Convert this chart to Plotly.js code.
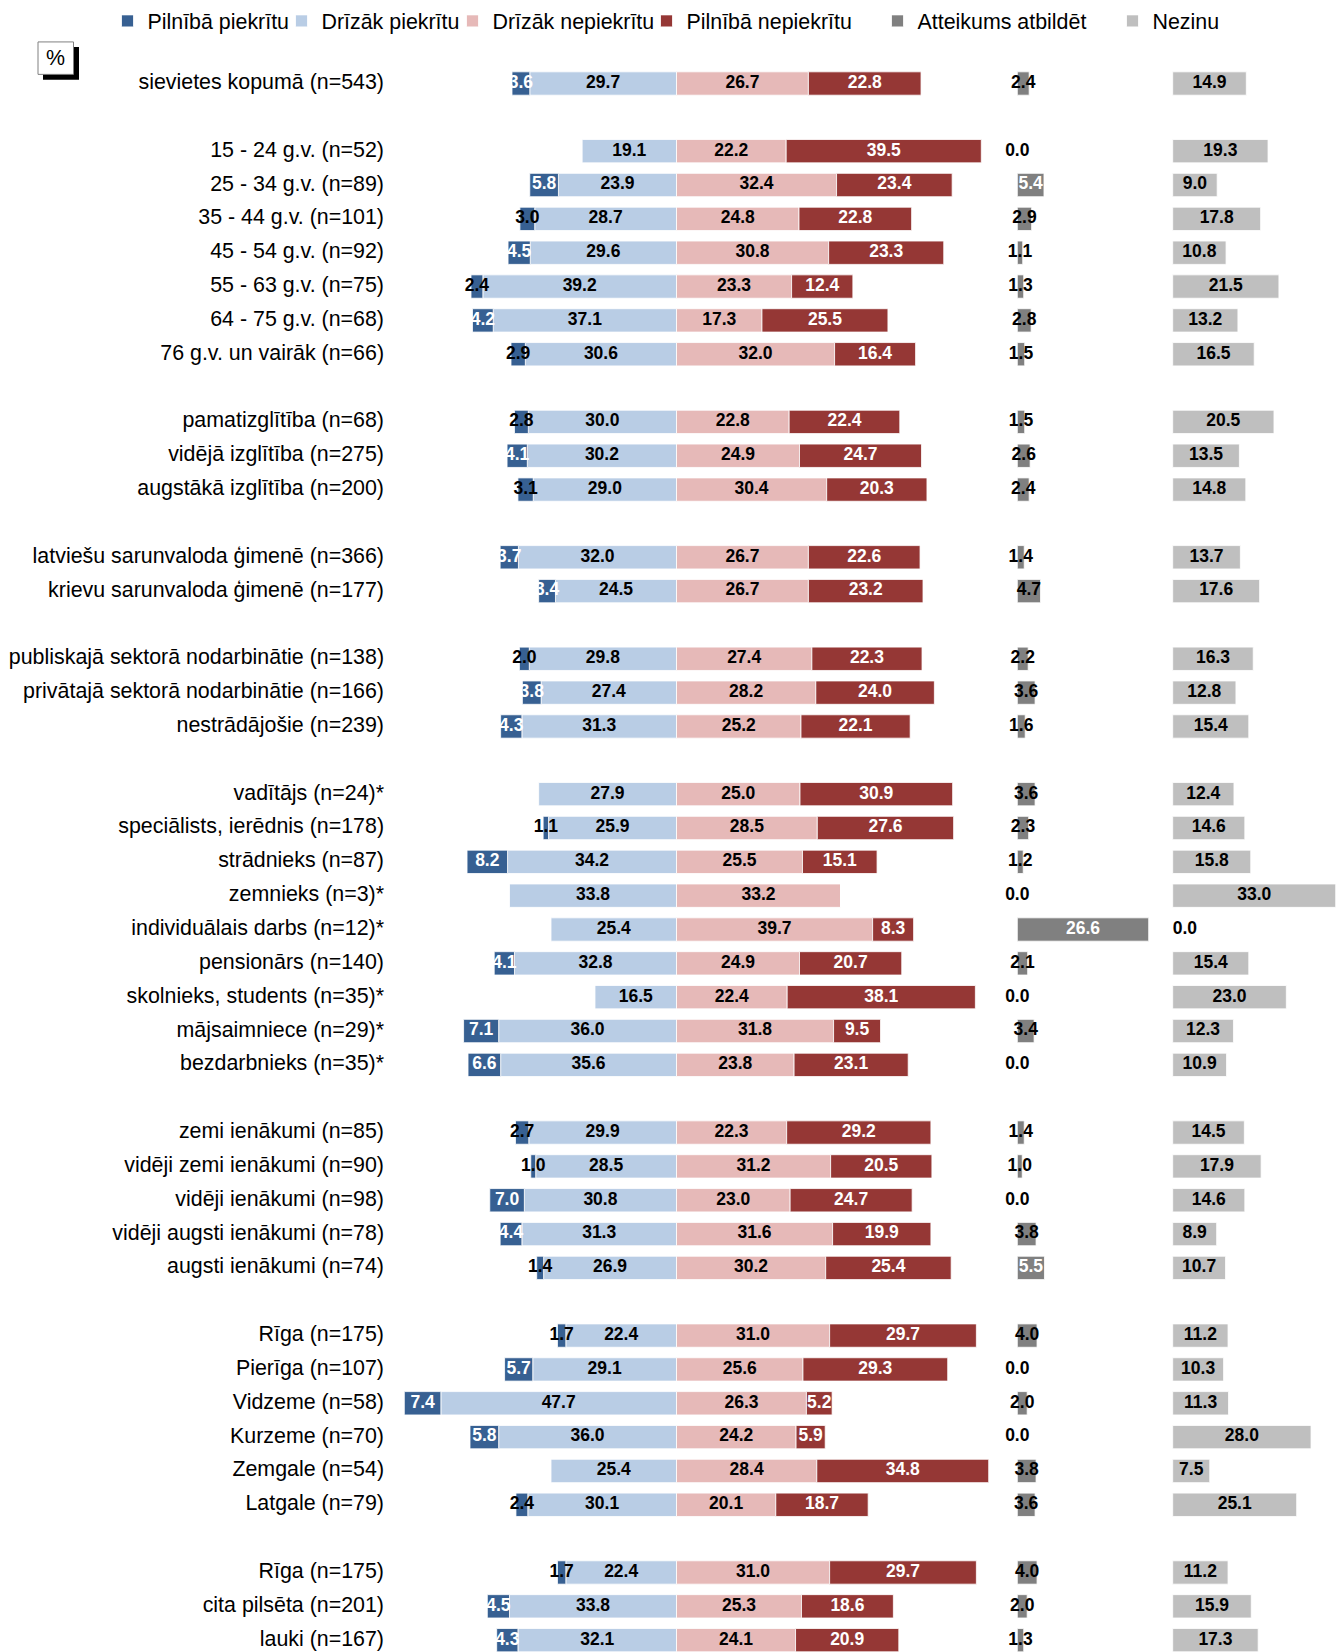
<!DOCTYPE html>
<html><head><meta charset="utf-8">
<script src="https://cdn.plot.ly/plotly-3.0.1.min.js"></script>
<style>html,body{margin:0;padding:0;background:#fff}#chart{width:1343px;height:1652px}</style>
</head><body><div id="chart"></div>
<script>
const categories = [
  'sievietes kopumā (n=543)',
  '15 - 24 g.v. (n=52)', '25 - 34 g.v. (n=89)', '35 - 44 g.v. (n=101)', '45 - 54 g.v. (n=92)',
  '55 - 63 g.v. (n=75)', '64 - 75 g.v. (n=68)', '76 g.v. un vairāk (n=66)',
  'pamatizglītība (n=68)', 'vidējā izglītība (n=275)', 'augstākā izglītība (n=200)',
  'latviešu sarunvaloda ģimenē (n=366)', 'krievu sarunvaloda ģimenē (n=177)',
  'publiskajā sektorā nodarbinātie (n=138)', 'privātajā sektorā nodarbinātie (n=166)', 'nestrādājošie (n=239)',
  'vadītājs (n=24)*', 'speciālists, ierēdnis (n=178)', 'strādnieks (n=87)', 'zemnieks (n=3)*',
  'individuālais darbs (n=12)*', 'pensionārs (n=140)', 'skolnieks, students (n=35)*',
  'mājsaimniece (n=29)*', 'bezdarbnieks (n=35)*',
  'zemi ienākumi (n=85)', 'vidēji zemi ienākumi (n=90)', 'vidēji ienākumi (n=98)',
  'vidēji augsti ienākumi (n=78)', 'augsti ienākumi (n=74)',
  'Rīga (n=175)', 'Pierīga (n=107)', 'Vidzeme (n=58)', 'Kurzeme (n=70)', 'Zemgale (n=54)', 'Latgale (n=79)',
  'Rīga (n=175)', 'cita pilsēta (n=201)', 'lauki (n=167)'
];
const groupSizes = [1, 7, 3, 2, 3, 9, 5, 6, 3];

const seriesNames = ['Pilnībā piekrītu', 'Drīzāk piekrītu', 'Drīzāk nepiekrītu', 'Pilnībā nepiekrītu', 'Atteikums atbildēt', 'Nezinu'];

const fullyAgree = [3.6, 0, 5.8, 3.0, 4.5, 2.4, 4.2, 2.9, 2.8, 4.1, 3.1, 3.7, 3.4, 2.0, 3.8, 4.3,
  0, 1.1, 8.2, 0, 0, 4.1, 0, 7.1, 6.6, 2.7, 1.0, 7.0, 4.4, 1.4, 1.7, 5.7, 7.4, 5.8, 0, 2.4, 1.7, 4.5, 4.3];
const ratherAgree = [29.7, 19.1, 23.9, 28.7, 29.6, 39.2, 37.1, 30.6, 30.0, 30.2, 29.0, 32.0, 24.5, 29.8, 27.4, 31.3,
  27.9, 25.9, 34.2, 33.8, 25.4, 32.8, 16.5, 36.0, 35.6, 29.9, 28.5, 30.8, 31.3, 26.9, 22.4, 29.1, 47.7, 36.0, 25.4, 30.1, 22.4, 33.8, 32.1];
const ratherDisagree = [26.7, 22.2, 32.4, 24.8, 30.8, 23.3, 17.3, 32.0, 22.8, 24.9, 30.4, 26.7, 26.7, 27.4, 28.2, 25.2,
  25.0, 28.5, 25.5, 33.2, 39.7, 24.9, 22.4, 31.8, 23.8, 22.3, 31.2, 23.0, 31.6, 30.2, 31.0, 25.6, 26.3, 24.2, 28.4, 20.1, 31.0, 25.3, 24.1];
const fullyDisagree = [22.8, 39.5, 23.4, 22.8, 23.3, 12.4, 25.5, 16.4, 22.4, 24.7, 20.3, 22.6, 23.2, 22.3, 24.0, 22.1,
  30.9, 27.6, 15.1, 0, 8.3, 20.7, 38.1, 9.5, 23.1, 29.2, 20.5, 24.7, 19.9, 25.4, 29.7, 29.3, 5.2, 5.9, 34.8, 18.7, 29.7, 18.6, 20.9];
const refused = [2.4, 0.0, 5.4, 2.9, 1.1, 1.3, 2.8, 1.5, 1.5, 2.6, 2.4, 1.4, 4.7, 2.2, 3.6, 1.6,
  3.6, 2.3, 1.2, 0.0, 26.6, 2.1, 0.0, 3.4, 0.0, 1.4, 1.0, 0.0, 3.8, 5.5, 4.0, 0.0, 2.0, 0.0, 3.8, 3.6, 4.0, 2.0, 1.3];
const dontKnow = [14.9, 19.3, 9.0, 17.8, 10.8, 21.5, 13.2, 16.5, 20.5, 13.5, 14.8, 13.7, 17.6, 16.3, 12.8, 15.4,
  12.4, 14.6, 15.8, 33.0, 0.0, 15.4, 23.0, 12.3, 10.9, 14.5, 17.9, 14.6, 8.9, 10.7, 11.2, 10.3, 11.3, 28.0, 7.5, 25.1, 11.2, 15.9, 17.3];

// ---- layout helpers ----
const W = 1343, H = 1652;
const PX = 4.94;               // pixels per percentage point
const FONT = 'Liberation Sans, Arial, sans-serif';
const COL = ['#376092', '#B9CDE5', '#E6B9B8', '#953735', '#808080', '#BFBFBF'];

// one empty slot between groups
const pos = [];
let slot = 0;
groupSizes.forEach((n, g) => { if (g > 0) slot++; for (let i = 0; i < n; i++) pos.push(slot++); });

function xAxis(left, right, zero, extra) {
  return Object.assign({
    domain: [left / W, right / W],
    range: [(left - zero) / PX, (right - zero) / PX],
    visible: false, fixedrange: true
  }, extra || {});
}
const fmt = v => v.toFixed(1);

function bar(values, idx, xa, legendId, sign) {
  return {
    type: 'bar', orientation: 'h', y: pos, yaxis: 'y', hoverinfo: 'skip',
    name: seriesNames[idx], x: values.map(v => sign * v), xaxis: xa, legend: legendId,
    marker: { color: COL[idx], line: { color: 'rgba(255,255,255,0.8)', width: 1 } }
  };
}

function labels(xa, xs, ys, texts, colors, positions) {
  return { type: 'scatter', mode: 'text', xaxis: xa, yaxis: 'y', x: xs, y: ys, text: texts,
    textposition: positions || 'middle center', cliponaxis: false, showlegend: false, hoverinfo: 'skip',
    textfont: { family: FONT, size: 17.5, weight: 'bold', color: colors } };
}

const traces = [
  bar(ratherAgree, 1, 'x', 'legend2', -1),
  bar(fullyAgree, 0, 'x', 'legend', -1),
  bar(ratherDisagree, 2, 'x', 'legend3', 1),
  bar(fullyDisagree, 3, 'x', 'legend4', 1),
  bar(refused, 4, 'x2', 'legend5', 1),
  bar(dontKnow, 5, 'x3', 'legend6', 1)
];

// data labels
(function () {
  const idx = categories.map((_, i) => i);
  const fa = idx.filter(i => fullyAgree[i] > 0);
  traces.push(labels('x', fa.map(i => -(ratherAgree[i] + fullyAgree[i] / 2)), fa.map(i => pos[i]),
    fa.map(i => fmt(fullyAgree[i])), fa.map(i => fullyAgree[i] < 3.3 ? '#000000' : '#ffffff')));
  const ra = idx.filter(i => ratherAgree[i] > 0);
  traces.push(labels('x', ra.map(i => -ratherAgree[i] / 2), ra.map(i => pos[i]),
    ra.map(i => fmt(ratherAgree[i])), '#000000'));
  const rd = idx.filter(i => ratherDisagree[i] > 0);
  traces.push(labels('x', rd.map(i => ratherDisagree[i] / 2), rd.map(i => pos[i]),
    rd.map(i => fmt(ratherDisagree[i])), '#000000'));
  const fd = idx.filter(i => fullyDisagree[i] > 0);
  traces.push(labels('x', fd.map(i => ratherDisagree[i] + fullyDisagree[i] / 2), fd.map(i => pos[i]),
    fd.map(i => fmt(fullyDisagree[i])), '#ffffff'));
  traces.push(labels('x2', idx.map(i => refused[i] / 2), pos,
    idx.map(i => fmt(refused[i])), idx.map(i => refused[i] >= 5 ? '#ffffff' : '#000000')));
  traces.push(labels('x3', idx.map(i => dontKnow[i] / 2), pos,
    idx.map(i => fmt(dontKnow[i])), '#000000', idx.map(i => dontKnow[i] === 0 ? 'middle right' : 'middle center')));
})();

const yRange = [46.35, -0.5];
const legendTextLeft = [146, 320, 491, 685, 916, 1151];
function legendAt(px) {
  return { orientation: 'h', x: (px - 38.5) / W, xanchor: 'left', y: 1 - 18 / H, yanchor: 'middle',
    font: { family: FONT, size: 21.4, color: '#000000' }, bgcolor: 'rgba(0,0,0,0)', borderwidth: 0,
    itemwidth: 30, itemclick: false, itemdoubleclick: false };
}

const layout = {
  width: W, height: H,
  margin: { l: 0, r: 0, t: 0, b: 0, pad: 0 },
  paper_bgcolor: '#ffffff', plot_bgcolor: 'rgba(0,0,0,0)',
  barmode: 'relative', bargap: 0.31,
  font: { family: FONT, size: 21.4, color: '#000000' },
  showlegend: true,
  xaxis: xAxis(385, 995, 676.5, { anchor: 'y' }),
  xaxis2: xAxis(998, 1160, 1017.3, { anchor: 'y' }),
  xaxis3: xAxis(1163, 1343, 1172.7, { anchor: 'y' }),
  yaxis: {
    domain: [0, 1 - 63.7 / H], range: yRange, fixedrange: true,
    tickmode: 'array', tickvals: pos, ticktext: categories,
    showline: false, showgrid: false, zeroline: false, ticks: '',
    ticklabelshift: 2,
    tickfont: { family: FONT, size: 21.4, color: '#000000' }
  },
  yaxis2: {
    overlaying: 'y', anchor: 'free', position: 676.5 / W, side: 'left', range: yRange, fixedrange: true,
    showline: true, linecolor: '#000000', linewidth: 1,
    ticks: 'outside', ticklen: 6, tickwidth: 1, tickcolor: '#000000',
    tickmode: 'linear', tick0: 0.5, dtick: 1,
    showticklabels: false, showgrid: false, zeroline: false
  },
  legend: legendAt(legendTextLeft[0]),
  legend2: legendAt(legendTextLeft[1]),
  legend3: legendAt(legendTextLeft[2]),
  legend4: legendAt(legendTextLeft[3]),
  legend5: legendAt(legendTextLeft[4]),
  legend6: legendAt(legendTextLeft[5]),
  shapes: [
    { type: 'rect', xref: 'paper', yref: 'paper', x0: 43 / W, x1: 79 / W, y0: 1 - 44 / H, y1: 1 - 77 / H,
      fillcolor: '#000000', line: { width: 0 } },
    { type: 'rect', xref: 'paper', yref: 'paper', x0: 38 / W, x1: 73.5 / W, y0: 1 - 39 / H, y1: 1 - 71.5 / H,
      fillcolor: '#ffffff', line: { color: '#808080', width: 1 } }
  ],
  annotations: [
    { text: '%', xref: 'paper', yref: 'paper', x: 55.7 / W, y: 1 - 55 / H, xanchor: 'center', yanchor: 'middle',
      showarrow: false, font: { family: FONT, size: 21.4, color: '#000000' } }
  ]
};

Plotly.newPlot('chart', traces, layout, { staticPlot: true, displayModeBar: false });
</script>
</body></html>
